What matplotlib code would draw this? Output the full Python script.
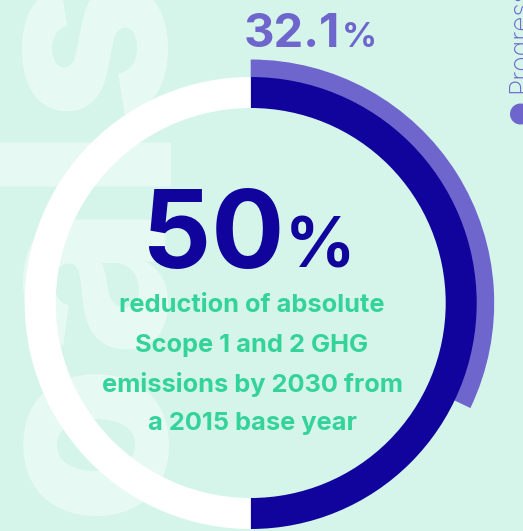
import matplotlib
matplotlib.use("Agg")
import matplotlib.pyplot as plt
from matplotlib.patches import Circle

# ---- data ----
target_pct = [50, 50]          # target reduction vs remainder
progress_pct = [32.1, 67.9]    # progress achieved vs remainder
target_label = "50"
progress_label = "32.1"
subtitle_lines = ["reduction of absolute", "Scope 1 and 2 GHG",
                  "emissions by 2030 from", "a 2015 base year"]
side_label = "Progress"
bg_word = ["G", "o", "a", "l", "s"]

# ---- style ----
BG = "#d5f5ea"
DARK = "#11049d"
PURPLE = "#6e66cc"
GREEN = "#33d399"
FONT = "Inter"

W, H = 523, 531
fig = plt.figure(figsize=(W / 100, H / 100), dpi=100)
fig.patch.set_facecolor(BG)
ax = fig.add_axes([0, 0, 1, 1])

# faint background word (rotated)
letter_centers = [640, 435, 273, 149, 40]
for ch, yc in zip(bg_word, letter_centers):
    ax.text(158, H - yc, ch, rotation=90, rotation_mode="anchor",
            ha="center", va="baseline", fontsize=186, fontweight="heavy",
            family=FONT, color="white", alpha=0.45, zorder=1)

cx, cy = 250.7, H - 303

# progress ring (outer)
ax.pie(progress_pct, colors=[PURPLE, "none"], radius=243.5, center=(cx, cy),
       startangle=90, counterclock=False,
       wedgeprops=dict(width=18.5, linewidth=0), frame=True)
# target ring
ax.pie(target_pct, colors=[DARK, "white"], radius=226, center=(cx, cy),
       startangle=90, counterclock=False,
       wedgeprops=dict(width=31, linewidth=0), frame=True)
ax.set_xlim(0, W)
ax.set_ylim(0, H)
ax.set_aspect("equal")
ax.axis("off")

# progress value text
ax.text(340, H - 47, progress_label, ha="right", va="baseline",
        fontsize=34, fontweight="bold", family=FONT, color=PURPLE, zorder=5)
ax.text(342, H - 47, "%", ha="left", va="baseline",
        fontsize=25, fontweight="bold", family=FONT, color=PURPLE, zorder=5)

# big target text
ax.text(284, H - 268, target_label, ha="right", va="baseline",
        fontsize=78, fontweight="bold", family=FONT, color=DARK, zorder=5)
ax.text(285, H - 268, "%", ha="left", va="baseline",
        fontsize=50, fontweight="bold", family=FONT, color=DARK, zorder=5)

# subtitle
baselines = [312, 352, 392, 430]
for line, b in zip(subtitle_lines, baselines):
    ax.text(252, H - b, line, ha="center", va="baseline",
            fontsize=18.3, fontweight="bold", family=FONT, color=GREEN, zorder=5)

# side legend
ax.add_patch(Circle((520.5, H - 114), 10.5, color=PURPLE, lw=0, zorder=5))
ax.text(527, H - 93, side_label, rotation=90, rotation_mode="anchor",
        ha="left", va="baseline", fontsize=19, fontweight="light",
        family=FONT, color=PURPLE, zorder=5)

fig.savefig("out.png", dpi=100, facecolor=BG)
